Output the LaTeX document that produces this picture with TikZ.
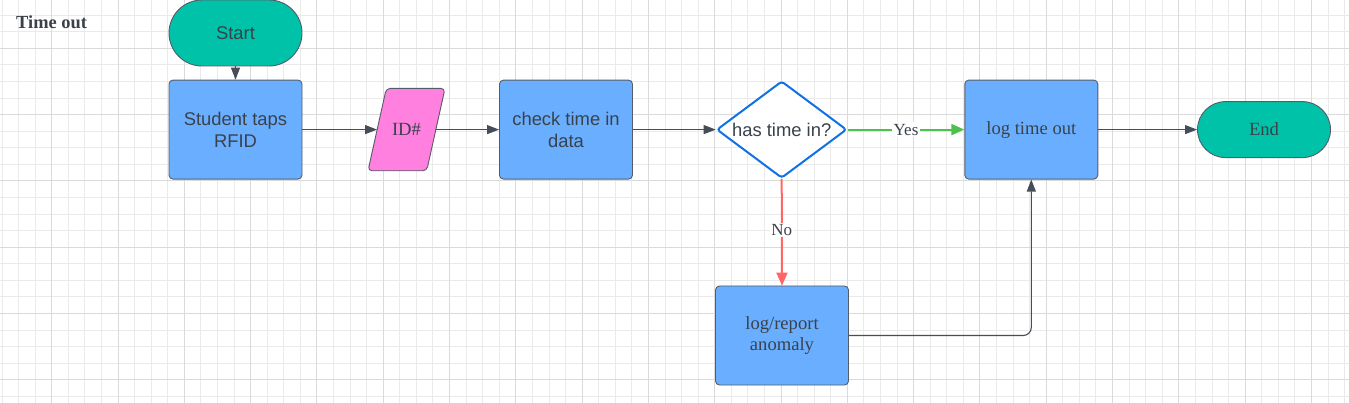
\documentclass[tikz,border=0pt]{standalone}
\usepackage{fontspec}
\setmainfont{Liberation Serif}
\setsansfont{Liberation Sans}
\usetikzlibrary{shapes.geometric,arrows.meta}
\definecolor{tealfill}{RGB}{0,194,168}
\definecolor{boxblue}{RGB}{106,175,255}
\definecolor{pinkfill}{RGB}{255,128,223}
\definecolor{boxline}{RGB}{85,92,105}
\definecolor{txt}{RGB}{58,65,74}
\definecolor{dblue}{RGB}{16,113,229}
\definecolor{greenarr}{RGB}{78,192,78}
\definecolor{redarr}{RGB}{255,102,102}
\definecolor{gminor}{RGB}{234,234,234}
\definecolor{gmajor}{RGB}{218,218,218}
\definecolor{conn}{RGB}{70,76,88}
\begin{document}
\begin{tikzpicture}[x=1pt,y=-1pt,
  sansf/.style={font=\fontsize{18.4pt}{21.7pt}\selectfont\sffamily, text=txt},
  seriff/.style={font=\fontsize{18.6pt}{21.7pt}\selectfont\rmfamily, text=txt},
  procbox/.style={draw=boxline, line width=0.9pt, fill=boxblue, rounded corners=4pt,
    minimum width=133pt, minimum height=99pt, align=center, inner sep=2pt},
  terminal/.style={draw=boxline, line width=0.9pt, fill=tealfill, rounded corners=28pt,
    minimum width=133pt, minimum height=56pt, inner sep=2pt},
  decision/.style={diamond, aspect=1.34, draw=dblue, line width=2pt, fill=white, rounded corners=3pt,
    minimum width=130pt, minimum height=97pt, inner sep=0pt},
  arr/.style={draw=conn, line width=1.1pt, -{Triangle[length=12pt,width=9pt]}},
  garr/.style={draw=greenarr, line width=2pt, -{Triangle[length=13pt,width=11pt]}},
  rarr/.style={draw=redarr, line width=2pt, -{Triangle[length=13pt,width=11pt]}},
  lbl/.style={font=\fontsize{17pt}{20pt}\selectfont\rmfamily, text=txt, fill=white, inner sep=1.5pt},
]
\useasboundingbox (0,0) rectangle (1349,403);
\fill[white] (0,0) rectangle (1349,403);
\begin{scope}
\clip (0,0) rectangle (1349,403);
\foreach \i in {-3,...,79} \draw[gminor, line width=0.9pt] ({51.7+\i*16.575},0) -- ({51.7+\i*16.575},403);
\foreach \i in {-3,...,22} \draw[gminor, line width=0.9pt] (0,{48.3+\i*16.575}) -- (1349,{48.3+\i*16.575});
\foreach \m in {0,...,19} \draw[gmajor, line width=1pt] ({51.7+\m*66.3},0) -- ({51.7+\m*66.3},403);
\foreach \m in {0,...,5} \draw[gmajor, line width=1pt] (0,{48.3+\m*66.3}) -- (1349,{48.3+\m*66.3});
\end{scope}

\node[anchor=base west, inner sep=0pt, font=\fontsize{18.4pt}{21pt}\selectfont\rmfamily\bfseries, text=txt] (title) at (16,29) {Time out};

\node[terminal, minimum height=66pt, rounded corners=33pt, sansf] (start) at (235.5,33) {Start};
\node[procbox, sansf] (tap) at (235.5,129.6) {Student taps\\RFID};
\node[minimum width=58.5pt, minimum height=82pt, inner sep=0pt] (id) at (406.5,129.6) {};
\draw[draw=boxline, line width=0.9pt, fill=pinkfill, rounded corners=4pt]
  ([xshift=-38.5pt]id.south) -- ([xshift=20.2pt]id.south) -- ([xshift=38.5pt]id.north)
  -- ([xshift=-20.2pt]id.north) -- cycle;
\node[seriff] at (id.center) {ID\#};
\node[procbox, sansf] (check) at (566,129.6) {check time in\\data};
\node[decision, sansf] (dec) at (781.7,129.6) {has time in?};
\node[procbox, seriff] (logout) at (1031.3,129.6) {log time out};
\node[terminal, seriff] (end) at (1264,129.6) {End};
\node[procbox, seriff] (anom) at (782,335.5) {log/report\\anomaly};

\draw[arr] (start) -- (tap);
\draw[arr] (tap.east) -- (id.west);
\draw[arr] (id.east) -- (check.west);
\draw[arr] (check.east) -- (dec.west);
\draw[garr] (dec.east) -- node[lbl] {Yes} (logout.west);
\draw[rarr] (dec.south) -- node[lbl, pos=0.48] {No} (anom.north);
\draw[arr] (logout.east) -- (end.west);
\draw[arr, rounded corners=8pt] (anom.east) -| (logout.south);
\end{tikzpicture}
\end{document}
